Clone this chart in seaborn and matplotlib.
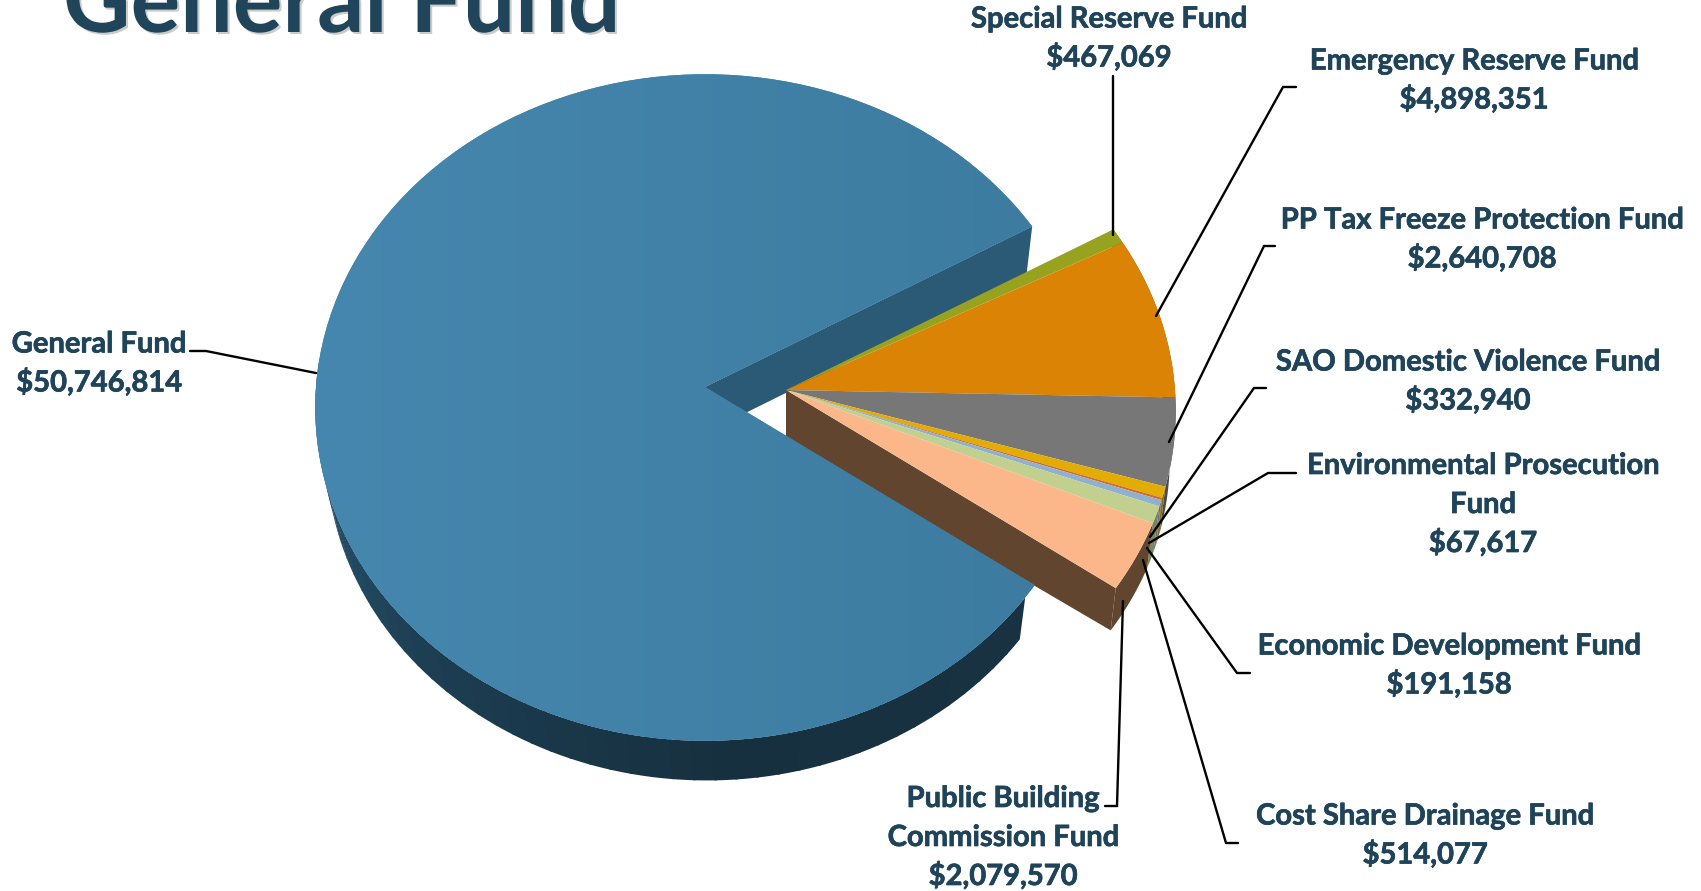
import numpy as np
import seaborn as sns
import matplotlib.pyplot as plt
import matplotlib.patheffects as pe
from matplotlib.colors import LinearSegmentedColormap
from matplotlib.transforms import Transform

funds = ['Special Reserve Fund', 'Emergency Reserve Fund', 'PP Tax Freeze Protection Fund',
         'SAO Domestic Violence Fund', 'Environmental Prosecution\nFund', 'Economic Development Fund',
         'Cost Share Drainage Fund', 'Public Building\nCommission Fund', 'General Fund']
amounts = [467069, 4898351, 2640708, 332940, 67617, 191158, 514077, 2079570, 50746814]
top_colors = ['#97a31f', '#da8304', '#777777', '#e2ac03', '#d06a2a', '#8fb1cf', '#c2d08f', '#fbb78a', '#4081a7']
side_colors = ['#5f6713', '#8a5302', '#4b4b4b', '#8f6d02', '#84431a', '#5b7083', '#7b845b', '#61452f', '#2a5a75']

# where each label sits and how its leader line runs (pixels of the 1701x891 figure)
label_xy = [(1109, 36), (1474, 78), (1482, 237), (1468, 379), (1483, 502), (1449, 663), (1425, 833), (1003, 835), (99, 361)]
leaders = [
    [(1113, 76), (1113, 235)],
    [(1296, 87), (1283, 87), (1156, 316)],
    [(1275, 246), (1264, 246), (1169, 442)],
    [(1266, 388), (1254, 388), (1150, 537)],
    [(1296, 473), (1268, 473), (1149, 543)],
    [(1250, 673), (1237, 673), (1147, 548)],
    [(1238, 843), (1226, 843), (1143, 560)],
    [(1105, 806), (1117, 806), (1123, 601)],
    [(190, 351), (206, 351), (316, 373)],
]

TEXT = '#1f4359'
K = 0.0615  # perspective of the pie plane
LINE_STEP = 39


class Tilt(Transform):
    # unit disc -> tilted pie plane in figure pixels
    input_dims = 2
    output_dims = 2

    def __init__(self, cx, cy, a=389, b=332):
        super().__init__()
        self.cx, self.cy, self.a, self.b = cx, cy, a, b

    def transform_non_affine(self, xy):
        xy = np.asarray(xy, dtype=float)
        d = 1 + K * xy[:, 1]
        return np.column_stack([self.cx + self.a * xy[:, 0] / d, self.cy - self.b * xy[:, 1] / d])


def disc(deg):
    rad = np.radians(deg)
    return np.column_stack([np.cos(rad), np.sin(rad)])


def extrude(ax, theta1, theta2, top, base, color, z):
    # one side wall on the outer rim, between two angles
    pts = disc(np.linspace(theta1, theta2, 40))
    outline = np.vstack([top.transform_non_affine(pts), base.transform_non_affine(pts)[::-1]])
    ax.fill(outline[:, 0], outline[:, 1], color=color, lw=0, zorder=z)


def radial_wall(ax, theta, top, base, color, z):
    apex = np.zeros((1, 2))
    rim = disc([theta])
    outline = np.vstack([top.transform_non_affine(apex), top.transform_non_affine(rim),
                         base.transform_non_affine(rim), base.transform_non_affine(apex)])
    ax.fill(outline[:, 0], outline[:, 1], color=color, lw=0, zorder=z)


sns.set_theme(style='white')
plt.rcParams['font.family'] = ['Lato', 'DejaVu Sans']

fig = plt.figure(figsize=(17.01, 8.91), dpi=100)
ax = fig.add_axes([0, 0, 1, 1])

wedges, _ = ax.pie(amounts, colors=sns.color_palette(top_colors), startangle=29.9, counterclock=False,
                   wedgeprops={'linewidth': 0})

big_top = Tilt(705, 387)
big_base = Tilt(707, 432, a=380, b=327)
small_top = Tilt(786, 390)
small_base = Tilt(786, 440, a=383, b=319)

for i, w in enumerate(wedges):
    top = big_top if i == len(wedges) - 1 else small_top
    w.set_transform(top + ax.transData)
    w.set_zorder(5 if top is big_top else 7)

# General Fund walls: dark rim shaded around the bottom, and the cut face at the back
general = wedges[-1]
rim_cmap = LinearSegmentedColormap.from_list('rim', ['#2b5a75', '#1d3f54', '#17303f', '#183242'])
steps = np.arange(175, 322, 3)
for n, th in enumerate(steps):
    extrude(ax, th, th + 3.4, big_top, big_base, rim_cmap(n / (len(steps) - 1)), 2)
radial_wall(ax, general.theta1, big_top, big_base, side_colors[-1], 3)

# walls of the pulled out slices, the big slice sits in front of them
for i, w in enumerate(wedges[:-1]):
    extrude(ax, w.theta1, w.theta2, small_top, small_base, side_colors[i], 4)
last = wedges[-2]
radial_wall(ax, last.theta1, small_top, small_base, side_colors[-2], 4)

# soft left to right shading on the big slice
shade = LinearSegmentedColormap.from_list('shade', ['#4687af', '#3d7ca0'])
im = ax.imshow(np.linspace(0, 1, 256).reshape(1, -1), cmap=shade, extent=(315, 1040, 760, 60),
               aspect='auto', zorder=5.5)
im.set_clip_path(general)

weight = [pe.withStroke(linewidth=0.5, foreground=TEXT)]
for name, amount, xy, path in zip(funds, amounts, label_xy, leaders):
    rows = f'{name}\n${amount:,}'.split('\n')
    for j, row in enumerate(rows):
        # rows are set one by one so that the "$" line keeps the same spacing as the others
        ax.text(xy[0], xy[1] + 11 + (j - (len(rows) - 1) / 2) * LINE_STEP, row, ha='center', va='baseline',
                fontsize=21, fontweight='bold', color=TEXT, zorder=9, path_effects=weight)
    px, py = zip(*path)
    ax.plot(px, py, color='black', lw=1.7, solid_joinstyle='miter', zorder=8)

ax.text(63, 32, 'General Fund', fontsize=67, fontweight='bold', color='#20455b', ha='left', va='baseline',
        path_effects=[pe.SimplePatchShadow(offset=(1.5, -1.5), alpha=0.3, shadow_rgbFace='#555555'), pe.Normal()])

ax.set_aspect('auto')
ax.set_xlim(0, 1701)
ax.set_ylim(891, 0)
ax.set_axis_off()
fig.savefig('out.png', dpi=100)
